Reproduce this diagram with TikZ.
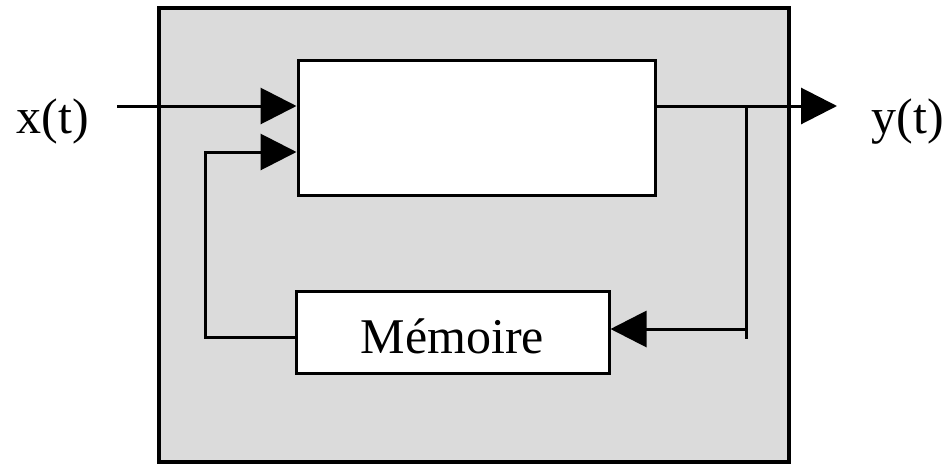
\documentclass[tikz,border=0pt]{standalone}
\usepackage{fontspec}
\setmainfont{Liberation Serif}
\usetikzlibrary{arrows.meta}
\begin{document}
\begin{tikzpicture}[x=1pt,y=-1pt,line width=3pt,
  wire/.style={draw=black,line join=miter},
  arr/.style={wire,-{Triangle[length=36pt,width=36pt]}},
  block/.style={draw=black,fill=white,rectangle,inner sep=0pt},
  sig/.style={font=\fontsize{50}{50}\selectfont,inner sep=0pt}]
  \useasboundingbox (0,0) rectangle (947,466);
  % enclosing system
  \node[draw=black,fill=black!14,line width=3.5pt,rectangle,inner sep=0pt,
        minimum width=630pt,minimum height=454pt] (sys) at (474,235) {};
  % processing block
  \node[block,minimum width=357pt,minimum height=135pt] (proc) at (476.5,127.5) {};
  % memory block
  \node[block,minimum width=313pt,minimum height=82pt,
        font=\fontsize{50}{50}\selectfont,text height=42pt,text depth=0pt]
        (mem) at (452.5,332) {Mémoire};
  % signals
  \node[sig,anchor=base] (x) at (53,133) {x(t)};
  \node[sig,anchor=base] (y) at (908,133) {y(t)};
  % junction points
  \coordinate (xs) at (117,106);
  \coordinate (tap) at (746,106);
  \coordinate (yend) at (837,106);
  \coordinate (tapend) at (746,339);
  % input
  \draw[arr] (xs) -- (proc.west |- xs);
  % output
  \draw[arr] (proc.east |- xs) -- (yend);
  % feedback into memory
  \draw[wire] (tap) -- (tapend);
  \draw[arr] (746,329) -- (mem.east |- 0,329);
  % memory back to input
  \draw[arr] (mem.west |- 0,337) -- (205,337) -- (205,152) -- (proc.west |- 0,152);
\end{tikzpicture}
\end{document}
